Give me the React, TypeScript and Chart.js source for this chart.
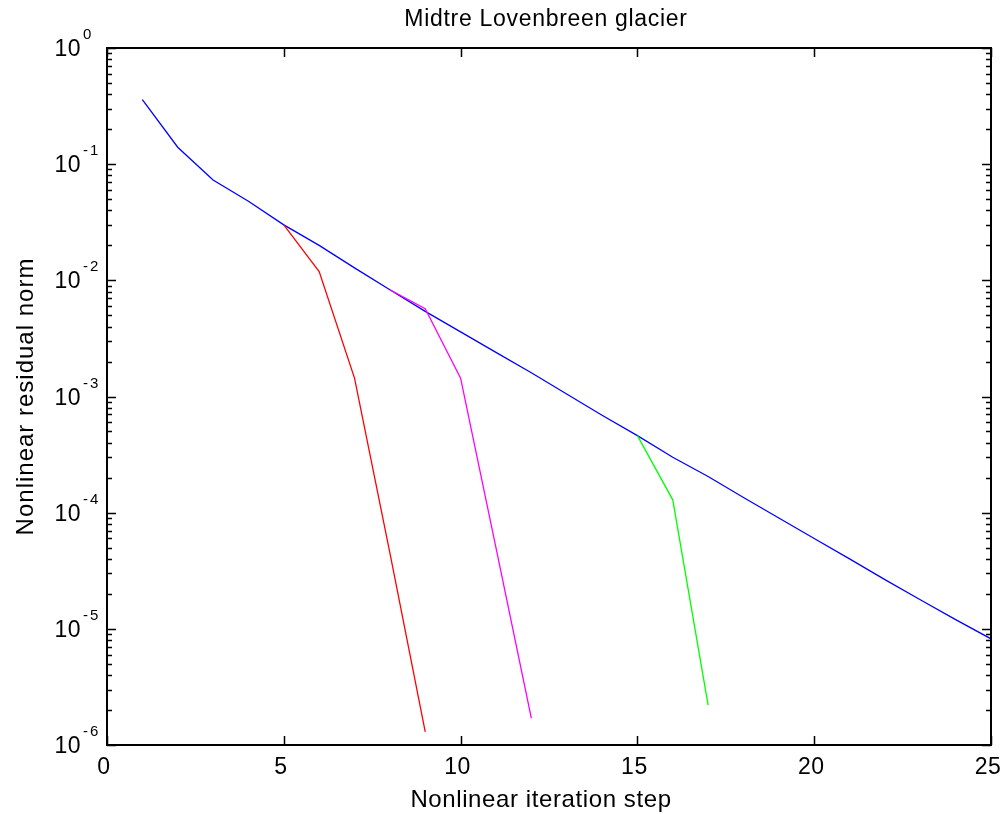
import React, { useEffect, useRef } from "react";
import { Chart, registerables } from "chart.js";

Chart.register(...registerables);

const titleText = "Midtre Lovenbreen glacier";
const xLabel = "Nonlinear iteration step";
const yLabel = "Nonlinear residual norm";

const xTicks = [0, 5, 10, 15, 20, 25];
const yExponents = [0, -1, -2, -3, -4, -5, -6];

const blueX = [1, 2, 3, 4, 5, 6, 7, 8, 9, 10, 11, 12, 13, 14, 15, 16, 17, 18, 19, 20, 21, 22, 23, 24, 25];
const blueY = [0.36, 0.14, 0.073, 0.048, 0.030, 0.020, 0.0128, 0.0083, 0.0054, 0.0036, 0.0024, 0.0016, 0.00105, 0.00069, 0.00046, 0.00030, 0.000205, 0.000135, 0.00009, 0.00006, 0.00004, 0.0000265, 0.0000178, 0.000012, 0.0000082];

const redX = [5, 6, 7, 8, 9];
const redY = [0.030, 0.0119, 0.00144, 0.000045, 0.0000013];

const magentaX = [8, 9, 10, 11, 12];
const magentaY = [0.0083, 0.0057, 0.00144, 0.00005, 0.0000017];

const greenX = [15, 16, 17];
const greenY = [0.00046, 0.000129, 0.0000022];

const FONT = '"Liberation Sans", Arial, Helvetica, sans-serif';

const toPts = (xs: number[], ys: number[]) => xs.map((x, i) => ({ x, y: ys[i] }));

const setSpacing = (ctx: any, s: string) => {
  if ("letterSpacing" in ctx) ctx.letterSpacing = s;
};

const matlabPlugin = {
  id: "matlabDecor",
  afterDraw(chart: any) {
    const ctx = chart.ctx as CanvasRenderingContext2D;
    const xs = chart.scales.x;
    const ys = chart.scales.y;
    const { left, right, top, bottom } = chart.chartArea;
    ctx.save();
    ctx.strokeStyle = "#000";
    ctx.lineWidth = 2;
    ctx.strokeRect(left, top, right - left, bottom - top);
    ctx.lineWidth = 1.5;
    xTicks.forEach((v) => {
      const px = Math.round(xs.getPixelForValue(v)) + 0.5;
      ctx.beginPath();
      ctx.moveTo(px, bottom);
      ctx.lineTo(px, bottom - 9);
      ctx.moveTo(px, top);
      ctx.lineTo(px, top + 9);
      ctx.stroke();
    });
    yExponents.forEach((e) => {
      const base = Math.pow(10, e);
      const py = Math.round(ys.getPixelForValue(base)) + 0.5;
      ctx.beginPath();
      ctx.moveTo(left, py);
      ctx.lineTo(left + 9, py);
      ctx.moveTo(right, py);
      ctx.lineTo(right - 9, py);
      ctx.stroke();
      if (e < 0) {
        for (let m = 2; m <= 9; m++) {
          const q = Math.round(ys.getPixelForValue(base * m)) + 0.5;
          ctx.beginPath();
          ctx.moveTo(left, q);
          ctx.lineTo(left + 5, q);
          ctx.moveTo(right, q);
          ctx.lineTo(right - 5, q);
          ctx.stroke();
        }
      }
    });
    ctx.fillStyle = "#000";
    // x tick labels
    setSpacing(ctx, "0.5px");
    ctx.font = `23px ${FONT}`;
    ctx.textAlign = "center";
    ctx.textBaseline = "alphabetic";
    xTicks.forEach((v) => {
      ctx.fillText(String(v), xs.getPixelForValue(v) - 3, bottom + 29);
    });
    // y tick labels
    yExponents.forEach((e) => {
      const py = ys.getPixelForValue(Math.pow(10, e));
      setSpacing(ctx, "0.5px");
      ctx.font = `23px ${FONT}`;
      ctx.textAlign = "right";
      ctx.textBaseline = "alphabetic";
      ctx.fillText("10", left - 26, py + 8);
      setSpacing(ctx, "2px");
      ctx.font = `15px ${FONT}`;
      ctx.textAlign = "left";
      ctx.fillText(String(e), left - 24, py - 9);
    });
    // title
    setSpacing(ctx, "0.7px");
    ctx.font = `23px ${FONT}`;
    ctx.textAlign = "center";
    ctx.textBaseline = "alphabetic";
    ctx.fillText(titleText, (left + right) / 2 - 3, 26);
    // x label
    setSpacing(ctx, "0.6px");
    ctx.font = `24px ${FONT}`;
    ctx.fillText(xLabel, (left + right) / 2 - 8, 807);
    // y label
    ctx.save();
    ctx.translate(33, (top + bottom) / 2);
    ctx.rotate(-Math.PI / 2);
    setSpacing(ctx, "1px");
    ctx.fillText(yLabel, 0, 0);
    ctx.restore();
    ctx.restore();
  },
};

export default function App() {
  const ref = useRef<HTMLCanvasElement | null>(null);
  useEffect(() => {
    if (!ref.current) return;
    const mk = (xs: number[], ys: number[], color: string) => ({
      data: toPts(xs, ys),
      borderColor: color,
      backgroundColor: color,
      borderWidth: 1.3,
      pointRadius: 0,
      tension: 0,
      fill: false,
    });
    const chart = new Chart(ref.current, {
      type: "line",
      data: {
        datasets: [
          mk(redX, redY, "#ff0000"),
          mk(magentaX, magentaY, "#ff00ff"),
          mk(greenX, greenY, "#00ff00"),
          mk(blueX, blueY, "#0000ff"),
        ],
      },
      options: {
        responsive: false,
        animation: false,
        devicePixelRatio: 1,
        layout: { padding: { top: 48, right: 16, left: 0, bottom: 0 } },
        plugins: { legend: { display: false }, tooltip: { enabled: false }, title: { display: false } },
        scales: {
          x: {
            type: "linear",
            min: 0,
            max: 25,
            grid: { display: false },
            border: { display: false },
            ticks: { display: false },
            afterFit: (s: any) => {
              s.height = 69;
            },
          },
          y: {
            type: "logarithmic",
            min: 1e-6,
            max: 1,
            grid: { display: false },
            border: { display: false },
            ticks: { display: false },
            afterFit: (s: any) => {
              s.width = 107;
            },
          },
        },
      },
      plugins: [matlabPlugin],
    });
    return () => chart.destroy();
  }, []);
  return (
    <div style={{ position: "absolute", left: 0, top: 0, width: 1007, height: 814, background: "#fff" }}>
      <canvas ref={ref} width={1007} height={814} style={{ width: 1007, height: 814 }} />
    </div>
  );
}
